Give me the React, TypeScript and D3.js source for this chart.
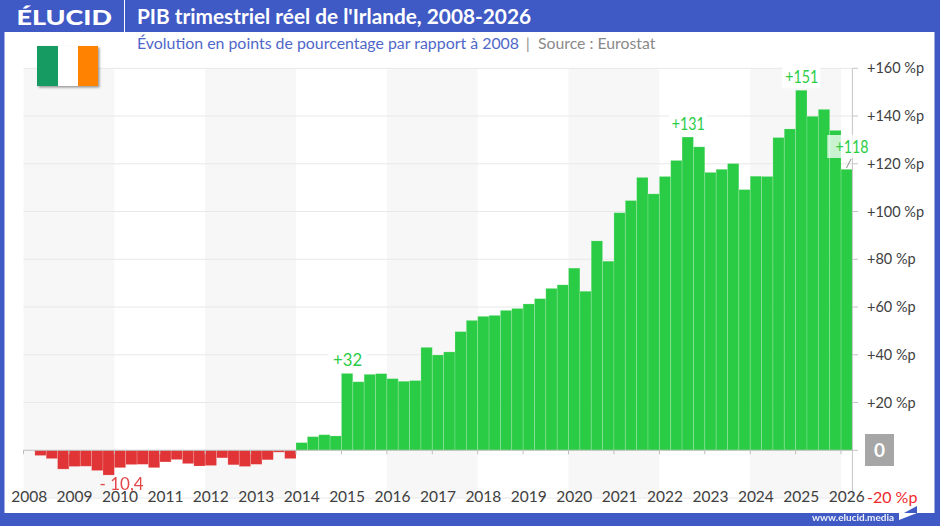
// Quarterly real GDP of Ireland, Elucid style column chart
import React, {useMemo} from 'react';
import * as d3 from 'd3';

const years = [2008, 2009, 2010, 2011, 2012, 2013, 2014, 2015, 2016, 2017, 2018,
  2019, 2020, 2021, 2022, 2023, 2024, 2025, 2026];

// One row per year, one value per quarter (2026 only has Q1)
const y2008 = [0, -2.2, -3.5, -7.9];
const y2009 = [-6.8, -6.7, -8.5, -10.4];
const y2010 = [-7.3, -6, -5.9, -7.3];
const y2011 = [-4.9, -3.9, -5.6, -6.6];
const y2012 = [-6.4, -3.2, -6.1, -6.8];
const y2013 = [-5.9, -4, -0.8, -3.5];
const y2014 = [3.2, 5.7, 6.5, 6];
const y2015 = [32.2, 28.7, 31.8, 32.1];
const y2016 = [30, 28.9, 29.2, 43.1];
const y2017 = [39.9, 41.2, 49.7, 54.4];
const y2018 = [56.1, 56.5, 58.6, 59.4];
const y2019 = [61.3, 63.5, 67.8, 69.3];
const y2020 = [76.3, 66.6, 87.7, 79.2];
const y2021 = [99.5, 104.6, 114.3, 107.4];
const y2022 = [114.7, 121.4, 131.2, 127.1];
const y2023 = [116.4, 117.7, 120.1, 109.2];
const y2024 = [114.8, 114.7, 131, 134.6];
const y2025 = [150.8, 139.9, 142.8, 134];
const y2026 = [117.7];

const values = [...y2008, ...y2009, ...y2010, ...y2011, ...y2012, ...y2013, ...y2014,
  ...y2015, ...y2016, ...y2017, ...y2018, ...y2019, ...y2020, ...y2021, ...y2022,
  ...y2023, ...y2024, ...y2025, ...y2026];

const yTicks = [160, 140, 120, 100, 80, 60, 40, 20];
const shadedYears = [2008, 2012, 2016, 2020, 2024];

// [quarter index, label]
const notes: [number, string][] = [[28, '+32'], [58, '+131'], [68, '+151']];
const LOW_INDEX = 7;

const BLUE = '#3f59c5';
const GREEN = '#2bcc45';
const RED = '#e03436';
const FONT = 'Lato, sans-serif';

const App: React.FC = () => {
  const xScale = useMemo(() => d3.scaleBand<number>()
      .domain(d3.range(values.length))
      .range([23.5, 852.4]), []);
  const yScale = useMemo(() => d3.scaleLinear()
      .domain([-20, 160])
      .range([498, 68.3]), []);
  const bw = xScale.bandwidth();
  const zero = yScale(0);
  const yearX = (year: number) => xScale((year - 2008) * 4) as number;

  return (
    <svg width={940} height={526} style={{position: 'fixed', left: 0, top: 0}} fontFamily={FONT}>
      <defs>
        <filter id="flagShadow" x="-10%" y="-10%" width="125%" height="125%">
          <feDropShadow dx="1.5" dy="1.5" stdDeviation="1" floodColor="#000" floodOpacity="0.4"/>
        </filter>
      </defs>

      <rect width={940} height={526} fill={BLUE}/>
      <rect x={4.5} y={32} width={930} height={481} fill="#fff"/>

      {/* header */}
      <text x={16.5} y={25} fontSize={21.5} fontWeight={900} fill="#fff" textLength={95.5}
            lengthAdjust="spacingAndGlyphs">ÉLUCID</text>
      <line x1={124.5} x2={124.5} y1={0} y2={32} stroke="#fff" strokeWidth={1}/>
      <text x={137} y={24} fontSize={20.8} fontWeight={700} fill="#fff">PIB trimestriel réel de l'Irlande, 2008-2026</text>
      <text x={137} y={49} fontSize={15.9} fill="#4f67c9">Évolution en points de pourcentage par rapport à 2008</text>
      <text x={526} y={49} fontSize={14.5} fill="#8a8a8a">|</text>
      <text x={538} y={49} fontSize={15.8} fill="#8a8a8a">Source : Eurostat</text>

      {/* shaded years */}
      {shadedYears.map(year => (
        <rect key={year} x={yearX(year)} y={yScale(160)}
              width={yearX(year + 2) - yearX(year)} height={yScale(-20) - yScale(160)}
              fill="#f7f7f7"/>
      ))}

      {/* grid */}
      {[...yTicks, -20].map(t => (
        <line key={t} x1={23.5} x2={852.4} y1={yScale(t)} y2={yScale(t)} stroke="#e8e8e8"/>
      ))}

      {/* flag */}
      <g filter="url(#flagShadow)">
        <rect x={37} y={46} width={21} height={40} fill="#169b62"/>
        <rect x={58} y={46} width={20} height={40} fill="#fff"/>
        <rect x={78} y={46} width={20} height={40} fill="#ff8200"/>
      </g>

      {/* label backgrounds sit between the grid and the bars */}
      {notes.map(([q, label]) => (
        <rect key={label} x={(xScale(q) as number) + bw / 2 - 19} y={yScale(values[q]) - 23}
              width={38} height={21} fill="#fff"/>
      ))}

      {/* bars */}
      {values.map((v, i) => v === 0 ? null : (
        <rect key={i} x={xScale(i)} width={bw}
              y={Math.min(yScale(v), zero)} height={Math.abs(yScale(v) - zero)}
              fill={v < 0 ? RED : GREEN} stroke="#fff" strokeOpacity={0.22} strokeWidth={0.8}/>
      ))}

      {/* axes */}
      <line x1={852.4} x2={852.4} y1={yScale(160)} y2={yScale(-20)} stroke="#c4c4c4"/>
      {[...yTicks, 0].map(t => (
        <line key={t} x1={852.4} x2={858} y1={yScale(t)} y2={yScale(t)} stroke="#c4c4c4"/>
      ))}
      <line x1={23.5} x2={852.4} y1={zero} y2={zero} stroke="#bdbdbd"/>
      {years.map(year => (
        <line key={year} x1={yearX(year)} x2={yearX(year)} y1={zero} y2={zero + 4} stroke="#bdbdbd"/>
      ))}

      {years.map(year => (
        <text key={year} x={yearX(year) + bw / 2} y={501.5} textAnchor="middle" fontSize={15.5} fill="#404040">{year}</text>
      ))}
      {yTicks.map(t => (
        <text key={t} x={867} y={yScale(t) + 5} fontSize={14.5} fill="#404040">{`+${t} %p`}</text>
      ))}
      <text x={867} y={503} fontSize={16} fill="#f0282c">-20 %p</text>
      <rect x={865} y={434} width={29} height={32} fill="#a6a6a6"/>
      <text x={879.5} y={457} textAnchor="middle" fontSize={19} fontWeight={700} fill="#fff">0</text>

      {/* annotations */}
      {notes.map(([q, label]) => (
        <text key={label} x={(xScale(q) as number) + bw / 2 + 0.5} y={yScale(values[q]) - 7}
              textAnchor="middle" fontSize={17} fill={GREEN} textLength={label.length === 3 ? 29 : 33}
              lengthAdjust="spacingAndGlyphs">{label}</text>
      ))}
      <text x={(xScale(LOW_INDEX) as number) + bw / 2 + 13} y={yScale(values[LOW_INDEX]) + 15}
            textAnchor="middle" fontSize={17} fill={RED} opacity={0.9}>- 10,4</text>

      <rect x={827.3} y={135} width={42} height={23} fill="#fff" opacity={0.75}/>
      <line x1={851} x2={846.5} y1={159} y2={168} stroke="#8a8a8a" strokeWidth={1}/>
      <text x={852} y={153} textAnchor="middle" fontSize={17} fill={GREEN} textLength={33}
            lengthAdjust="spacingAndGlyphs">+118</text>

      {/* footer */}
      <text x={812} y={521} fontSize={10} fontWeight={700} fill="#fff" opacity={0.9}>www.elucid.media</text>
      <polygon points="904,513 917,506 917,513" fill={BLUE}/>
      <polygon points="899,513 917,513 899,520" fill="#fff"/>
    </svg>
  );
};

export default App;
